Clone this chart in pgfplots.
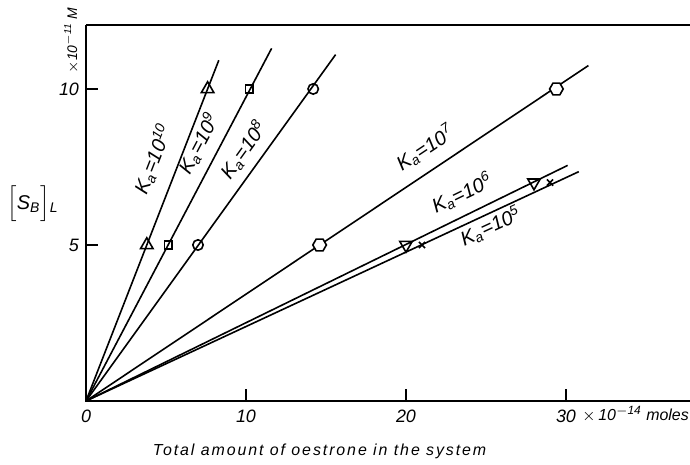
\documentclass[border=0pt]{standalone}
\usepackage{fontspec}
\setmainfont{Liberation Sans}
\usepackage{pgfplots}
\pgfplotsset{compat=1.18}
\pgfdeclareplotmark{hexagon}{%
  \pgfpathmoveto{\pgfqpointpolar{0}{\pgfplotmarksize}}%
  \pgfpathlineto{\pgfqpointpolar{60}{\pgfplotmarksize}}%
  \pgfpathlineto{\pgfqpointpolar{120}{\pgfplotmarksize}}%
  \pgfpathlineto{\pgfqpointpolar{180}{\pgfplotmarksize}}%
  \pgfpathlineto{\pgfqpointpolar{240}{\pgfplotmarksize}}%
  \pgfpathlineto{\pgfqpointpolar{300}{\pgfplotmarksize}}%
  \pgfpathclose
  \pgfusepathqfillstroke}
\newcommand{\ka}[1]{K\textsubscript{a}=10\textsuperscript{#1}}
\begin{document}
\begin{tikzpicture}
\useasboundingbox (-43bp,-32bp) rectangle (302bp,200.5bp);
\begin{axis}[
  at={(0,0)}, anchor=south west,
  scale only axis, width=302bp, height=188bp,
  xmin=0, xmax=37.75, ymin=0, ymax=12.05,
  axis line style={draw=none},
  xtick={0,10,20,30}, ytick={5,10},
  xtick pos=bottom, ytick pos=left,
  tick align=inside, major tick length=6bp,
  tick style={black, line width=0.8bp},
  ticklabel style={font=\fontsize{9}{10}\selectfont\itshape},
  xticklabel style={yshift=-1bp},
  /pgf/number format/assume math mode=true,
  clip=false,
  every axis plot/.append style={black, line width=0.8bp},
]
\draw[line width=0.9bp] (rel axis cs:0,1) -- (rel axis cs:0,0) -- (rel axis cs:1,0);
\draw[line width=0.9bp] (rel axis cs:0,1) -- (rel axis cs:1,1);

% lines
\addplot[no marks] coordinates {(0,0) (8.3,10.92)};
\addplot[no marks] coordinates {(0,0) (11.6,11.3)};
\addplot[no marks] coordinates {(0,0) (15.6,11.1)};
\addplot[no marks] coordinates {(0,0) (31.4,10.75)};
\addplot[no marks] coordinates {(0,0) (30.1,7.55)};
\addplot[no marks] coordinates {(0,0) (30.8,7.35)};

% markers
\addplot[only marks, mark=triangle, mark size=3.6bp, mark options={fill=white, line width=0.8bp}] coordinates {(3.8,5) (7.6,10)};
\addplot[only marks, mark=square, mark size=1.9bp, mark options={fill=white, line width=0.8bp}] coordinates {(5.15,5) (10.2,10)};
\addplot[only marks, mark=o, mark size=2.6bp, mark options={fill=white, line width=0.8bp}] coordinates {(7.0,5) (14.2,10)};
\addplot[only marks, mark=hexagon, mark size=3.4bp, mark options={fill=white, line width=0.8bp}] coordinates {(14.6,5) (29.4,10)};
\addplot[only marks, mark=triangle, mark size=3.6bp, mark options={rotate=180, fill=white, line width=0.8bp}] coordinates {(20.0,5) (28.0,7)};
\addplot[only marks, mark=x, mark size=2.2bp, mark options={line width=0.8bp}] coordinates {(21.0,5) (29.0,7)};

% line labels
\begin{scope}[every node/.style={font=\fontsize{10}{11}\selectfont\itshape, inner sep=0pt}]
\node[rotate=68.7] at (axis cs:4.2,7.75) {\ka{10}};
\node[rotate=62.2] at (axis cs:7.05,8.25) {\ka{9}};
\node[rotate=54.3] at (axis cs:9.85,8.05) {\ka{8}};
\node[rotate=33.7] at (axis cs:21.2,8.1) {\ka{7}};
\node[rotate=26] at (axis cs:23.5,6.65) {\ka{6}};
\node[rotate=24.9] at (axis cs:25.3,5.6) {\ka{5}};
\end{scope}

% axis texts
\node[font=\fontsize{10}{12}\selectfont\itshape] at (axis cs:-3.31,6.31) {$\Big[$S\textsubscript{B}$\Big]$\textsubscript{L}};
\node[rotate=90, font=\fontsize{7}{8}\selectfont\itshape] at (axis cs:-0.9,11.55) {${\times}$10\textsuperscript{$-$11} M};
\node[anchor=east, font=\fontsize{8}{10}\selectfont\itshape, inner sep=0pt] at (axis cs:37.7,-0.42) {${\times}$\,10\textsuperscript{$-$14} moles};
\node[font=\fontsize{8}{10}\selectfont\itshape\addfontfeature{LetterSpace=12}] at (axis cs:14.6,-1.63) {Total amount of oestrone in the system};
\end{axis}
\end{tikzpicture}
\end{document}
